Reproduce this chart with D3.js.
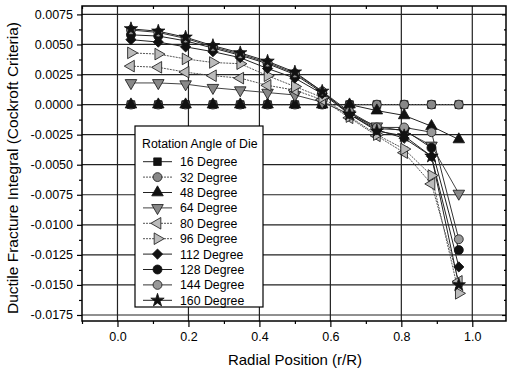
<!DOCTYPE html>
<html>
<head>
<meta charset="utf-8">
<script src="https://cdn.jsdelivr.net/npm/d3@7"></script>
<style>
  body { margin: 0; background: #fff; }
  svg { display: block; font-family: "Liberation Sans", Arial, sans-serif; }
</style>
</head>
<body>
<svg id="drawing_region"></svg>
<script>
// radial positions r/R
const xValues = [0.038, 0.115, 0.192, 0.269, 0.346, 0.423, 0.5, 0.577, 0.654, 0.731, 0.808, 0.885, 0.962];

const seriesNames = ["16 Degree", "32 Degree", "48 Degree", "64 Degree", "80 Degree",
                     "96 Degree", "112 Degree", "128 Degree", "144 Degree", "160 Degree"];

const deg16  = [0, 0, 0, 0, 0, 0, 0, 0, 0, 0, 0, 0, 0];
const deg32  = [0, 0, 0, 0, 0, 0, 0, 0, 0, 0, 0, 0, 0];
const deg48  = [0, 0, 0, 0, 0, 0, 0, 0, 0, -0.0005, -0.0009, -0.0018, -0.0029];
const deg64  = [0.0018, 0.0018, 0.0017, 0.0014, 0.0012, 0.0010, 0.0008, 0.0002, -0.0008, -0.0018, -0.0022, -0.0034, -0.0074];
const deg80  = [0.0032, 0.0031, 0.0027, 0.0024, 0.0022, 0.0016, 0.0012, 0.0004, -0.0011, -0.0026, -0.0040, -0.0066, -0.0147];
const deg96  = [0.0043, 0.0042, 0.0038, 0.0035, 0.0034, 0.0024, 0.0015, 0.0006, -0.0010, -0.0025, -0.0037, -0.0059, -0.0157];
const deg112 = [0.0054, 0.0052, 0.0048, 0.0044, 0.0039, 0.0030, 0.0022, 0.0009, -0.0008, -0.0021, -0.0028, -0.0043, -0.0135];
const deg128 = [0.0058, 0.0057, 0.0053, 0.0047, 0.0041, 0.0034, 0.0025, 0.0010, -0.0007, -0.0020, -0.0021, -0.0036, -0.0121];
const deg144 = [0.0062, 0.0060, 0.0055, 0.0048, 0.0042, 0.0035, 0.0026, 0.0011, -0.0006, -0.0019, -0.0019, -0.0023, -0.0112];
const deg160 = [0.0063, 0.0061, 0.0056, 0.0049, 0.0043, 0.0036, 0.0027, 0.0011, -0.0008, -0.0022, -0.0026, -0.0043, -0.0150];

const xTicks = [0.0, 0.2, 0.4, 0.6, 0.8, 1.0];
const xMinorTicks = [-0.1, 0.1, 0.3, 0.5, 0.7, 0.9];
const yTicks = [0.0075, 0.0050, 0.0025, 0.0000, -0.0025, -0.0050, -0.0075, -0.0100, -0.0125, -0.0150, -0.0175];
const yMinorTicks = [0.00625, 0.00375, 0.00125, -0.00125, -0.00375, -0.00625, -0.00875, -0.01125, -0.01375, -0.01625];

const allSeries = [deg16, deg32, deg48, deg64, deg80, deg96, deg112, deg128, deg144, deg160];

// marker style per series
const styles = [
  {type: d3.symbolSquare,   rot: 0,   size: 58, fill: "#111", line: "#222", dash: null},
  {type: d3.symbolCircle,   rot: 0,   size: 62, fill: "#888", line: "#555", dash: "2,1"},
  {type: d3.symbolTriangle, rot: 0,   size: 58, fill: "#111", line: "#222", dash: null},
  {type: d3.symbolTriangle, rot: 180, size: 58, fill: "#888", line: "#444", dash: null},
  {type: d3.symbolTriangle, rot: -90, size: 58, fill: "#bbb", line: "#555", dash: "2,1"},
  {type: d3.symbolTriangle, rot: 90,  size: 58, fill: "#bbb", line: "#555", dash: "2,1"},
  {type: d3.symbolSquare,   rot: 45,  size: 52, fill: "#111", line: "#222", dash: null},
  {type: d3.symbolCircle,   rot: 0,   size: 64, fill: "#111", line: "#222", dash: null},
  {type: d3.symbolCircle,   rot: 0,   size: 62, fill: "#999", line: "#333", dash: null},
  {type: d3.symbolStar,     rot: 0,   size: 55, fill: "#111", line: "#222", dash: null}
];

const width = 508, height = 370;
const plot = {left: 82, right: 506, top: 6, bottom: 321};

const svg = d3.select("#drawing_region")
  .attr("width", width)
  .attr("height", height);

const xscale = d3.scaleLinear().domain([-0.1, 1.095]).range([plot.left, plot.right]);
const yscale = d3.scaleLinear().domain([-0.0180, 0.0082]).range([plot.bottom, plot.top]);

// grid
const grid = svg.append("g");
grid.selectAll("line.h")
  .data(yTicks)
  .join("line")
  .attr("x1", plot.left).attr("x2", plot.right)
  .attr("y1", d => yscale(d)).attr("y2", d => yscale(d))
  .attr("stroke", "#222").attr("stroke-width", 1.2);
grid.selectAll("line.v")
  .data(xTicks)
  .join("line")
  .attr("class", "v")
  .attr("y1", plot.top).attr("y2", plot.bottom)
  .attr("x1", d => xscale(d)).attr("x2", d => xscale(d))
  .attr("stroke", "#222").attr("stroke-width", 1.2);

// axes
const fmtY = d => d.toFixed(4);
const fmtX = d => d.toFixed(1);

function styleAxis(g) {
  g.select(".domain").remove();
  g.selectAll(".tick line").attr("stroke", "#000").attr("stroke-width", 1.2);
  g.selectAll(".tick text").attr("fill", "#000").style("font-size", "12.5px");
}

svg.append("g")
  .attr("transform", `translate(${plot.left},0)`)
  .call(d3.axisLeft(yscale).tickValues(yTicks).tickFormat(fmtY).tickSize(5).tickPadding(4))
  .call(styleAxis);
svg.append("g")
  .attr("transform", `translate(${plot.left},0)`)
  .call(d3.axisLeft(yscale).tickValues(yMinorTicks).tickFormat("").tickSize(3))
  .call(styleAxis);
svg.append("g")
  .attr("transform", `translate(${plot.right},0)`)
  .call(d3.axisLeft(yscale).tickValues(yTicks).tickFormat("").tickSize(4))
  .call(styleAxis);
svg.append("g")
  .attr("transform", `translate(${plot.right},0)`)
  .call(d3.axisLeft(yscale).tickValues(yMinorTicks).tickFormat("").tickSize(2))
  .call(styleAxis);

svg.append("g")
  .attr("transform", `translate(0,${plot.bottom})`)
  .call(d3.axisBottom(xscale).tickValues(xTicks).tickFormat(fmtX).tickSize(6).tickPadding(5))
  .call(styleAxis);
svg.append("g")
  .attr("transform", `translate(0,${plot.bottom})`)
  .call(d3.axisBottom(xscale).tickValues(xMinorTicks).tickFormat("").tickSize(3))
  .call(styleAxis);
svg.append("g")
  .attr("transform", `translate(0,${plot.top})`)
  .call(d3.axisBottom(xscale).tickValues(xMinorTicks).tickFormat("").tickSize(3))
  .call(styleAxis);

// frame
svg.append("rect")
  .attr("x", plot.left).attr("y", plot.top)
  .attr("width", plot.right - plot.left).attr("height", plot.bottom - plot.top)
  .attr("fill", "none").attr("stroke", "#000").attr("stroke-width", 1.5);

// series
const line = d3.line()
  .x(d => xscale(d.x))
  .y(d => yscale(d.y));

const seriesData = allSeries.map((vals, i) => ({
  name: seriesNames[i],
  style: styles[i],
  points: vals.map((v, j) => ({x: xValues[j], y: v}))
}));

const chart = svg.append("g");
seriesData.forEach(s => {
  chart.append("path")
    .datum(s.points)
    .attr("d", line)
    .attr("fill", "none")
    .attr("stroke", s.style.line)
    .attr("stroke-width", 1)
    .attr("stroke-dasharray", s.style.dash);
});
seriesData.forEach(s => {
  const sym = d3.symbol().type(s.style.type).size(s.style.size);
  chart.selectAll(null)
    .data(s.points)
    .join("path")
    .attr("d", sym)
    .attr("transform", d => `translate(${xscale(d.x)},${yscale(d.y)}) rotate(${s.style.rot})`)
    .attr("fill", s.style.fill)
    .attr("stroke", "#111")
    .attr("stroke-width", 0.8);
});

// legend
const legend = svg.append("g").attr("transform", "translate(135,126)");
legend.append("rect")
  .attr("width", 128).attr("height", 181)
  .attr("fill", "#fff").attr("stroke", "#000").attr("stroke-width", 1.2);
legend.append("text")
  .attr("x", 7).attr("y", 22)
  .style("font-size", "12.3px")
  .text("Rotation Angle of Die");

const rows = legend.selectAll("g.row")
  .data(seriesData)
  .join("g")
  .attr("transform", (d, i) => `translate(0,${35.7 + i * 15.4})`);
rows.append("line")
  .attr("x1", 8).attr("x2", 37)
  .attr("stroke", d => d.style.line)
  .attr("stroke-dasharray", d => d.style.dash)
  .attr("stroke-width", 1);
rows.append("path")
  .attr("d", d => d3.symbol().type(d.style.type).size(d.style.size)())
  .attr("transform", d => `translate(22.5,0) rotate(${d.style.rot})`)
  .attr("fill", d => d.style.fill)
  .attr("stroke", "#111")
  .attr("stroke-width", 0.8);
rows.append("text")
  .attr("x", 45).attr("y", 4.5)
  .style("font-size", "12.3px")
  .text(d => d.name);

// axis titles
svg.append("text")
  .attr("x", 295).attr("y", 365)
  .attr("text-anchor", "middle")
  .style("font-size", "15px")
  .text("Radial Position (r/R)");
svg.append("text")
  .attr("transform", "translate(18,168) rotate(-90)")
  .attr("text-anchor", "middle")
  .style("font-size", "15.5px")
  .text("Ductile Fracture Integral (Cockroft Criteria)");
</script>
</body>
</html>
